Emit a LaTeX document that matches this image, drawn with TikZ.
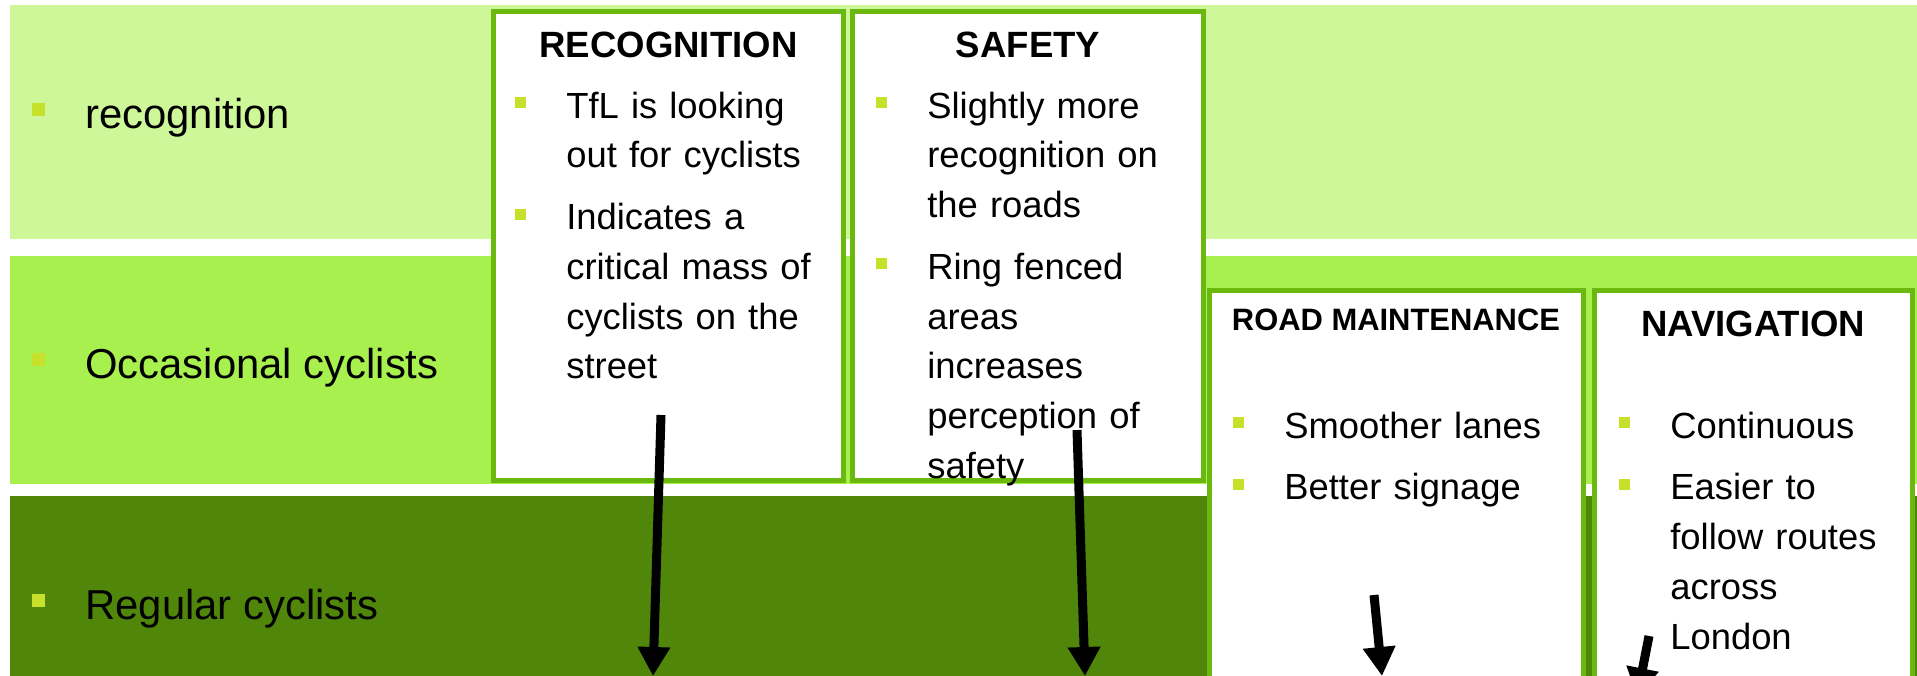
\documentclass[tikz,border=0pt]{standalone}
\usepackage{fontspec}
\setmainfont{Liberation Sans}
\usetikzlibrary{arrows.meta}

\definecolor{bandpale}{RGB}{205,247,152}
\definecolor{bandlime}{RGB}{168,240,78}
\definecolor{banddark}{RGB}{80,135,11}
\definecolor{boxgreen}{RGB}{107,184,14}
\definecolor{bulletyellow}{RGB}{199,224,42}

\newcommand{\boxbullet}{\leavevmode\llap{\textcolor{bulletyellow}{\rule[5.7pt]{6.8pt}{6.2pt}}\hspace{22.7pt}}}
\newcommand{\rowbullet}{\leavevmode\llap{\textcolor{bulletyellow}{\rule[6.8pt]{7.4pt}{7.4pt}}\hspace{23.2pt}}}

\tikzset{
	panel/.style={draw=boxgreen, line width=0.1cm, fill=white, inner sep=0pt},
	paneltitle/.style={anchor=base, inner sep=0pt, font=\fontsize{20.8}{25}\selectfont\bfseries},
	panellist/.style={anchor=base west, inner sep=0pt, text width=8cm, align=left, font=\fontsize{20.7}{28.35}\selectfont},
	rowlabel/.style={anchor=base west, inner sep=0pt, font=\fontsize{23.8}{28}\selectfont},
	pointer/.style={line width=0.18cm, -{Triangle[width=0.62cm,length=0.58cm]}},
}

\begin{document}
\begin{tikzpicture}[x=0.02cm, y=-0.02cm]
			%%%%% START %%%%%
			\useasboundingbox (0, 0) rectangle (1917, 676);
			\clip (0, 0) rectangle (1917, 676);
			
			\fill[bandpale] (10, 5) rectangle (1917, 239);
			\fill[bandlime] (10, 256) rectangle (1917, 484);
			\fill[banddark] (10, 496) rectangle (1917, 676);
			
			\node[rowlabel] (lblrec) at (85, 128) {\rowbullet recognition};
			\node[rowlabel] (lblocc) at (85, 378) {\rowbullet Occasional cyclists};
			\node[rowlabel] (lblreg) at (85, 619) {\rowbullet Regular cyclists};
			
			\node[panel, minimum width=7cm, minimum height=9.38cm] (recbox) at (668.5, 246) {};
			\node[panel, minimum width=7.02cm, minimum height=9.38cm] (safbox) at (1028, 246) {};
			\node[panel, minimum width=7.48cm, minimum height=8.94cm] (roadbox) at (1396.5, 514) {};
			\node[panel, minimum width=6.36cm, minimum height=8.94cm] (navbox) at (1753.5, 514) {};
			
			\node[paneltitle] (rectitle) at (668.5, 57) {RECOGNITION};
			\node[paneltitle] (saftitle) at (1028, 57) {SAFETY};
			\node[paneltitle, font=\fontsize{17.6}{21}\selectfont\bfseries] (roadtitle) at (1396, 330) {ROAD MAINTENANCE};
			\node[paneltitle] (navtitle) at (1753, 336) {NAVIGATION};
			
			\node[panellist] (reclist) at (566, 118) {\boxbullet TfL is looking\\out for cyclists\\[6.8pt]\boxbullet Indicates a\\critical mass of\\cyclists on the\\street};
			\node[panellist] (saflist) at (927, 118) {\boxbullet Slightly more\\recognition on\\the roads\\[6.8pt]\boxbullet Ring fenced\\areas\\increases\\perception of\\safety};
			\node[panellist] (roadlist) at (1284, 438) {\boxbullet Smoother lanes\\[6.8pt]\boxbullet Better signage};
			\node[panellist] (navlist) at (1670, 438) {\boxbullet Continuous\\[6.8pt]\boxbullet Easier to\\follow routes\\across\\London};
			
			\coordinate (recfrom) at (661, 415);
			\coordinate (recto) at (653, 676);
			\coordinate (saffrom) at (1077, 430);
			\coordinate (safto) at (1085, 676);
			\coordinate (roadfrom) at (1374, 595);
			\coordinate (roadto) at (1382, 676);
			\coordinate (navfrom) at (1649, 636);
			\coordinate (navto) at (1637, 697);
			
			\draw[pointer] (recfrom) -- (recto);
			\draw[pointer] (saffrom) -- (safto);
			\draw[pointer] (roadfrom) -- (roadto);
			\draw[pointer] (navfrom) -- (navto);
			%%%%% END %%%%%
\end{tikzpicture}
\end{document}
